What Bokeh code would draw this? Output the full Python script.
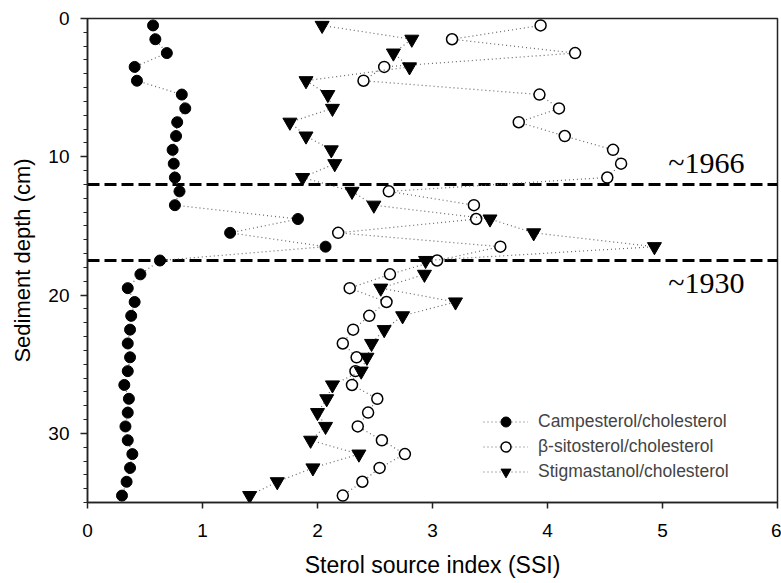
from bokeh.plotting import figure
from bokeh.models import Range1d, Span, Label, Legend, LegendItem, FixedTicker
from bokeh.embed import file_html
from bokeh.resources import INLINE

depth = [0.5, 1.5, 2.5, 3.5, 4.5, 5.5, 6.5, 7.5, 8.5, 9.5, 10.5, 11.5, 12.5, 13.5,
         14.5, 15.5, 16.5, 17.5, 18.5, 19.5, 20.5, 21.5, 22.5, 23.5, 24.5, 25.5,
         26.5, 27.5, 28.5, 29.5, 30.5, 31.5, 32.5, 33.5, 34.5]
campesterol = [0.57, 0.59, 0.69, 0.41, 0.43, 0.82, 0.85, 0.78, 0.77, 0.74, 0.75, 0.76,
               0.80, 0.76, 1.83, 1.24, 2.07, 0.63, 0.46, 0.35, 0.41, 0.38, 0.37, 0.35,
               0.37, 0.35, 0.32, 0.36, 0.35, 0.33, 0.35, 0.39, 0.37, 0.34, 0.30]
sitosterol = [3.94, 3.17, 4.24, 2.58, 2.40, 3.93, 4.10, 3.75, 4.15, 4.57, 4.64, 4.52,
              2.62, 3.36, 3.38, 2.18, 3.59, 3.04, 2.63, 2.28, 2.60, 2.45, 2.31, 2.22,
              2.34, 2.33, 2.30, 2.52, 2.44, 2.35, 2.56, 2.76, 2.54, 2.39, 2.22]
stigmastanol = [2.04, 2.82, 2.66, 2.80, 1.90, 2.09, 2.13, 1.76, 1.90, 2.12, 2.15, 1.87,
                2.30, 2.49, 3.50, 3.88, 4.93, 2.94, 2.93, 2.55, 3.20, 2.74, 2.58, 2.47,
                2.43, 2.38, 2.13, 2.08, 2.00, 2.07, 1.94, 2.36, 1.96, 1.65, 1.41]
x_ticks = [0, 1, 2, 3, 4, 5, 6]
y_ticks = [0, 10, 20, 30]
event_depths = [12.0, 17.5]
event_labels = ["~1966", "~1930"]
event_label_depths = [10.4, 19.1]
series_names = ["Campesterol/cholesterol", "\u03b2-sitosterol/cholesterol", "Stigmastanol/cholesterol"]
x_title = "Sterol source index (SSI)"
y_title = "Sediment depth (cm)"

SANS = "Liberation Sans"

p = figure(width=781, height=583, output_backend="svg", toolbar_location=None,
           x_range=Range1d(0, 6), y_range=Range1d(35, 0),
           min_border_left=87, min_border_right=4, min_border_top=18, min_border_bottom=81)
p.grid.visible = False
p.outline_line_color = "#222222"
p.outline_line_width = 1.5
p.background_fill_color = "white"
p.border_fill_color = "white"

for ax in (p.xaxis[0], p.yaxis[0]):
    ax.axis_line_color = "#222222"
    ax.axis_line_width = 1.5
    ax.major_tick_line_color = "#222222"
    ax.major_tick_line_width = 1.5
    ax.minor_tick_line_color = "#222222"
    ax.minor_tick_line_width = 1.2
    ax.major_tick_in = 0
    ax.minor_tick_in = 0
    ax.major_label_text_font = SANS
    ax.major_label_text_font_size = "19px"
    ax.major_label_text_color = "black"
    ax.axis_label_text_font = SANS
    ax.axis_label_text_font_style = "normal"
    ax.axis_label_text_color = "black"

p.xaxis.ticker = FixedTicker(ticks=x_ticks)
p.xaxis.major_tick_out = 6
p.xaxis.minor_tick_out = 0
p.xaxis.major_label_standoff = 15
p.xaxis.axis_label = x_title
p.xaxis.axis_label_text_font_size = "23px"
p.xaxis.axis_label_standoff = 12

p.yaxis.ticker = FixedTicker(ticks=y_ticks, minor_ticks=list(range(0, 36)))
p.yaxis.major_tick_out = 7
p.yaxis.minor_tick_out = 4
p.yaxis.major_label_standoff = 11
p.yaxis.axis_label = y_title
p.yaxis.axis_label_text_font_size = "22px"
p.yaxis.axis_label_standoff = 10

for d in event_depths:
    p.add_layout(Span(location=d, dimension="width", line_color="black",
                      line_width=3, line_dash="12 5", level="underlay"))

for txt, d in zip(event_labels, event_label_depths):
    p.add_layout(Label(x=5.05, y=d, text=txt, text_font="Liberation Serif",
                       text_font_size="30px", text_baseline="middle", text_align="left",
                       text_color="black"))

dot = dict(line_color="#666666", line_width=1.2, line_dash="1 3")
l1 = p.line(campesterol, depth, **dot)
m1 = p.scatter(campesterol, depth, marker="circle", size=11, fill_color="black",
               line_color="black")
l2 = p.line(sitosterol, depth, **dot)
m2 = p.scatter(sitosterol, depth, marker="circle", size=11, fill_color="white",
               line_color="black", line_width=1.5)
l3 = p.line(stigmastanol, depth, **dot)
m3 = p.scatter(stigmastanol, depth, marker="inverted_triangle", size=14,
               fill_color="black", line_color="black")

legend = Legend(items=[LegendItem(label=series_names[0], renderers=[l1, m1]),
                       LegendItem(label=series_names[1], renderers=[l2, m2]),
                       LegendItem(label=series_names[2], renderers=[l3, m3])],
                location=(396, 18), padding=0, margin=0, spacing=0,
                glyph_width=45, glyph_height=25, label_height=20, label_standoff=10,
                label_text_font=SANS, label_text_font_size="17.5px",
                border_line_color=None, background_fill_alpha=0)
p.add_layout(legend, "center")

open("out.html", "w").write(file_html(p, INLINE))
